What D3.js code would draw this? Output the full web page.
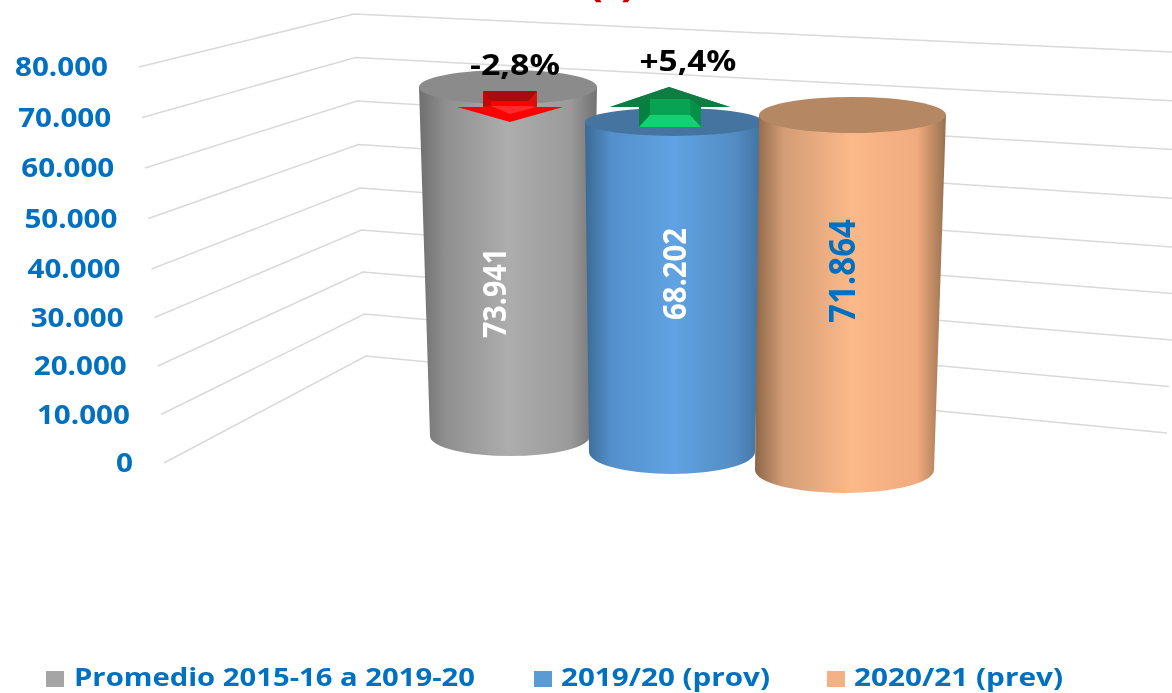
<!DOCTYPE html>
<html>
  <head>
  <meta charset="utf-8">
  <title>Cilindros</title>
  <style>
    body, html { margin: 0; padding: 0; background: #fff; overflow: hidden; }
    svg { display: block; filter: blur(0.4px); }
    text { font-family: "Open Sans", sans-serif; font-weight: 700; }
  </style>
  </head>
  <body>

  <svg id="svg" width="1172" height="693"></svg>

  <script src="https://d3js.org/d3.v7.min.js"></script>
  <script>
    const categories = ['Promedio 2015-16 a 2019-20', '2019/20 (prov)', '2020/21 (prev)']
    const values = [73941, 68202, 71864]
    const yTicks = [0, 10000, 20000, 30000, 40000, 50000, 60000, 70000, 80000]
    const changes = ['-2,8%', '+5,4%']
    const titleFragment = '(t)'

    const esFormat = d3.formatLocale({ decimal: ',', thousands: '.', grouping: [3], currency: ['', '€'] }).format(',d')
    const blueText = '#0070c0'

    const svg = d3.select('#svg')
    const defs = svg.append('defs')

    // the chart is a 3D picture, so each wall corner gets its own scale
    const yDomain = [0, 40000, 80000]
    const leftX = d3.scaleLinear().domain([0, 80000]).range([164, 139])
    const leftY = d3.scaleLinear().domain(yDomain).range([463, 269, 67])
    const cornerX = d3.scaleLinear().domain([0, 80000]).range([366, 354])
    const cornerY = d3.scaleLinear().domain(yDomain).range([356, 188, 14])
    const rightX = d3.scaleLinear().domain([0, 10000, 20000, 80000]).range([1167, 1169, 1172, 1172])
    const rightY = d3.scaleLinear().domain(yDomain).range([433, 247, 52])

    const line = d3.line()

    svg.append('g')
      .selectAll('path')
      .data(yTicks)
      .enter()
      .append('path')
      .attr('d', d => line([[leftX(d), leftY(d)], [cornerX(d), cornerY(d)], [rightX(d), rightY(d)]]))
      .attr('fill', 'none')
      .attr('stroke', '#d9d9d9')
      .attr('stroke-width', 1.5)

    svg.append('g')
      .selectAll('text')
      .data(yTicks)
      .enter()
      .append('text')
      .attr('x', d => leftX(d) - 31)
      .attr('y', d => leftY(d) + 9)
      .attr('text-anchor', 'end')
      .attr('font-size', 26)
      .attr('fill', blueText)
      .attr('textLength', d => d === 0 ? 17 : 93)
      .attr('lengthAdjust', 'spacingAndGlyphs')
      .text(d => esFormat(d))

    // one entry per cylinder, in perspective: x and y scales run from the base to the top
    const cylinders = [
      {
        left: [430, 419], right: [590, 597], base: 436, unit: 0.00472, ryBase: 20, ryTop: 17,
        top: '#8b8b8b', stops: ['#6f6f6f', '#8f8f8f', '#adadad', '#9a9a9a', '#727272'],
        labelX: 495, labelY: 293, labelColor: '#fff', labelSize: 32, labelLen: 90
      },
      {
        left: [589, 585], right: [755, 763], base: 452, unit: 0.00484, ryBase: 22, ryTop: 14,
        top: '#44749f', stops: ['#3a6a94', '#5490cb', '#60a2e3', '#528cc3', '#3f719f'],
        labelX: 675, labelY: 274, labelColor: '#fff', labelSize: 32, labelLen: 92
      },
      {
        left: [755, 759], right: [934, 946], base: 470, unit: 0.00494, ryBase: 23, ryTop: 18,
        top: '#b58763', stops: ['#8c6647', '#d49d76', '#fbb888', '#f0ab7e', '#96704f'],
        labelX: 842, labelY: 271, labelColor: blueText, labelSize: 36, labelLen: 104
      }
    ]
    const stopOffsets = [0, 0.15, 0.5, 0.85, 1]

    const bars = svg.append('g')

    values.forEach((v, i) => {
      const c = cylinders[i]
      const y = d3.scaleLinear().domain([0, 80000]).range([c.base, c.base - 80000 * c.unit])
      const xl = d3.scaleLinear().domain([0, v]).range(c.left)
      const xr = d3.scaleLinear().domain([0, v]).range(c.right)

      const grad = defs.append('linearGradient').attr('id', 'cyl' + i)
      grad.selectAll('stop')
        .data(c.stops)
        .enter()
        .append('stop')
        .attr('offset', (d, j) => stopOffsets[j])
        .attr('stop-color', d => d)

      const rxBase = (xr(0) - xl(0)) / 2
      const rxTop = (xr(v) - xl(v)) / 2

      bars.append('path')
        .attr('d', `M${xl(v)},${y(v)} L${xl(0)},${y(0)} A${rxBase},${c.ryBase} 0 0 0 ${xr(0)},${y(0)} L${xr(v)},${y(v)} Z`)
        .attr('fill', `url(#cyl${i})`)

      bars.append('ellipse')
        .attr('cx', xl(v) + rxTop)
        .attr('cy', y(v))
        .attr('rx', rxTop)
        .attr('ry', c.ryTop)
        .attr('fill', c.top)
    })

    // bevelled block arrows, drawn from a centre point
    function poly(g, pts, fill) {
      g.append('path').attr('d', line(pts) + 'Z').attr('fill', fill)
    }

    const red = svg.append('g').attr('transform', 'translate(510, 0)')
    poly(red, [[-27, 91], [27, 91], [27, 107], [53, 107], [0, 122], [-53, 107], [-27, 107]], '#ff0000')
    poly(red, [[-27, 91], [27, 91], [19, 101], [-19, 101]], '#a50d0d')
    poly(red, [[-27, 91], [-19, 101], [-19, 106], [-27, 107]], '#c00808')
    poly(red, [[27, 91], [19, 101], [19, 106], [27, 107]], '#d81010')
    poly(red, [[-19, 106], [19, 106], [27, 107], [0, 114]], '#ff2a2a')

    const green = svg.append('g').attr('transform', 'translate(670, 0)')
    poly(green, [[-1, 87], [60, 107], [31, 107], [31, 127], [-31, 127], [-31, 107], [-60, 107]], '#0b8f4a')
    poly(green, [[-1, 87], [60, 107], [31, 107], [20, 99], [-20, 99], [-31, 107], [-60, 107]], '#0f7d42')
    poly(green, [[-20, 99], [20, 99], [20, 115], [-20, 115]], '#07a352')
    poly(green, [[-31, 107], [-20, 99], [-20, 115], [-31, 127]], '#06803f')
    poly(green, [[31, 107], [20, 99], [20, 115], [31, 127]], '#06914a')
    poly(green, [[-20, 115], [20, 115], [31, 127], [-31, 127]], '#15d070')

    // value labels sit on top of all the cylinders
    svg.append('g')
      .selectAll('text')
      .data(values)
      .enter()
      .append('text')
      .attr('transform', (d, i) => `translate(${cylinders[i].labelX}, ${cylinders[i].labelY}) rotate(-90)`)
      .attr('text-anchor', 'middle')
      .attr('dy', '0.35em')
      .attr('font-size', (d, i) => cylinders[i].labelSize)
      .attr('fill', (d, i) => cylinders[i].labelColor)
      .attr('textLength', (d, i) => cylinders[i].labelLen)
      .attr('lengthAdjust', 'spacingAndGlyphs')
      .text(d => esFormat(d))

    const changePos = [[515, 75, 90], [688, 71, 97]]
    svg.append('g')
      .selectAll('text')
      .data(changes)
      .enter()
      .append('text')
      .attr('x', (d, i) => changePos[i][0])
      .attr('y', (d, i) => changePos[i][1])
      .attr('text-anchor', 'middle')
      .attr('font-size', 28)
      .attr('fill', '#000')
      .attr('textLength', (d, i) => changePos[i][2])
      .attr('lengthAdjust', 'spacingAndGlyphs')
      .text(d => d)

    // only the bottom of the title is inside the picture, as in the reference
    svg.append('text')
      .attr('x', 612)
      .attr('y', -5)
      .attr('text-anchor', 'middle')
      .attr('font-size', 44)
      .attr('fill', '#c00000')
      .attr('textLength', 48)
      .text(titleFragment)

    const legendPos = [[46, 74, 401], [534, 561, 209], [827, 854, 209]]
    const legendColor = ['#a5a5a5', '#5b9bd5', '#f4b183']
    const legend = svg.append('g')
    categories.forEach((name, i) => {
      legend.append('rect')
        .attr('x', legendPos[i][0])
        .attr('y', 671)
        .attr('width', 18)
        .attr('height', 16)
        .attr('fill', legendColor[i])
      legend.append('text')
        .attr('x', legendPos[i][1])
        .attr('y', 685.5)
        .attr('font-size', 25)
        .attr('fill', blueText)
        .attr('textLength', legendPos[i][2])
        .attr('lengthAdjust', 'spacingAndGlyphs')
        .text(name)
    })
  </script>
  </body>
</html>
